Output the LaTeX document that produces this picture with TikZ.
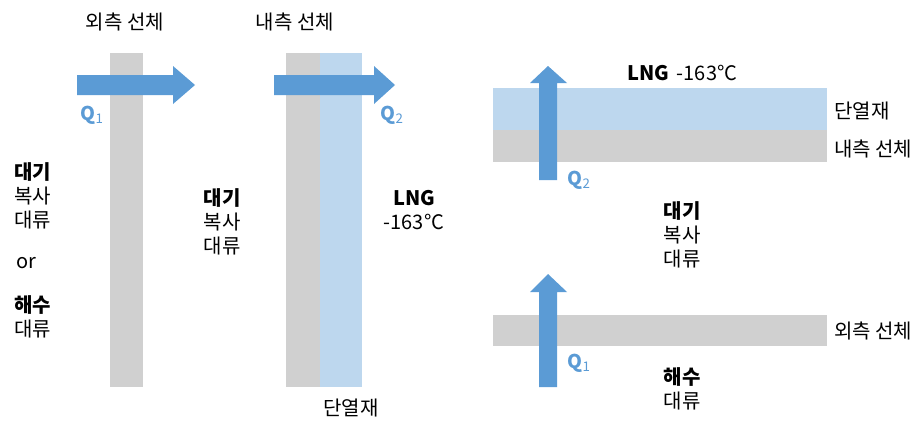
\documentclass[tikz,border=0pt]{standalone}
\usepackage{fontspec}
\setmainfont{Noto Sans CJK KR}
\definecolor{arrowblue}{HTML}{5B9BD5}
\definecolor{wallgray}{HTML}{D0D0D0}
\definecolor{insblue}{HTML}{BDD7EE}
\tikzset{
  txt/.style={inner sep=0pt, font=\fontsize{20}{24}\selectfont, text=black},
  qlabel/.style={inner sep=0pt, font=\fontsize{19}{20}\selectfont\bfseries, text=arrowblue},
  wall/.style={fill=wallgray},
  ins/.style={fill=insblue},
  blockarrow/.style={fill=arrowblue}
}
\begin{document}
\begin{tikzpicture}[x=1pt,y=-1pt]
\useasboundingbox (0,0) rectangle (920,420);
% ---------- left panel: outer hull ----------
\fill[wall] (110,53) rectangle (143,387);
\fill[blockarrow] (77,75) -- (173,75) -- (173,66) -- (195,85) -- (173,104) -- (173,95) -- (77,95) -- cycle;
\node[txt] (t1) at (125,22) {외측 선체};
\node[qlabel] (q1a) at (92,115) {Q\textsubscript{\mdseries 1}};
\node[txt, align=left, anchor=west] (l1) at (14,196) {\textbf{대기}\\복사\\대류};
\node[txt] (or) at (26,263) {or};
\node[txt, align=left, anchor=west] (l2) at (14,317) {\textbf{해수}\\대류};
% ---------- middle panel: inner hull ----------
\fill[wall] (286,53) rectangle (320,387);
\fill[ins] (320,53) rectangle (362,387);
\fill[blockarrow] (274,75) -- (374,75) -- (374,66) -- (395,85) -- (374,104) -- (374,95) -- (274,95) -- cycle;
\node[txt] (t2) at (295,22) {내측 선체};
\node[qlabel] (q2a) at (392,115) {Q\textsubscript{\mdseries 2}};
\node[txt, align=center] (m1) at (222,222) {\textbf{대기}\\복사\\대류};
\node[txt, align=center] (lng1) at (414,210) {\textbf{LNG}\\-163°C};
\node[txt] (ins1) at (351,408) {단열재};
% ---------- right panel ----------
\fill[ins] (493,88) rectangle (827,130);
\fill[wall] (493,130) rectangle (827,162);
\fill[wall] (493,315) rectangle (827,346);
\fill[blockarrow] (539,180) -- (539,83) -- (530,83) -- (548,66) -- (567,83) -- (557,83) -- (557,180) -- cycle;
\fill[blockarrow] (539,387) -- (539,292) -- (530,292) -- (548,274) -- (567,292) -- (557,292) -- (557,387) -- cycle;
\node[txt, anchor=west] (lng2) at (627,73) {\textbf{LNG}\, -163°C};
\node[txt, anchor=west] (ins2) at (834,111) {단열재};
\node[txt, anchor=west] (t3) at (834,149) {내측 선체};
\node[txt, anchor=west] (t4) at (834,331) {외측 선체};
\node[qlabel] (q2b) at (579,180) {Q\textsubscript{\mdseries 2}};
\node[qlabel] (q1b) at (579,363) {Q\textsubscript{\mdseries 1}};
\node[txt, align=center] (r1) at (682,235) {\textbf{대기}\\복사\\대류};
\node[txt, align=center] (r2) at (682,389) {\textbf{해수}\\대류};
\end{tikzpicture}
\end{document}
